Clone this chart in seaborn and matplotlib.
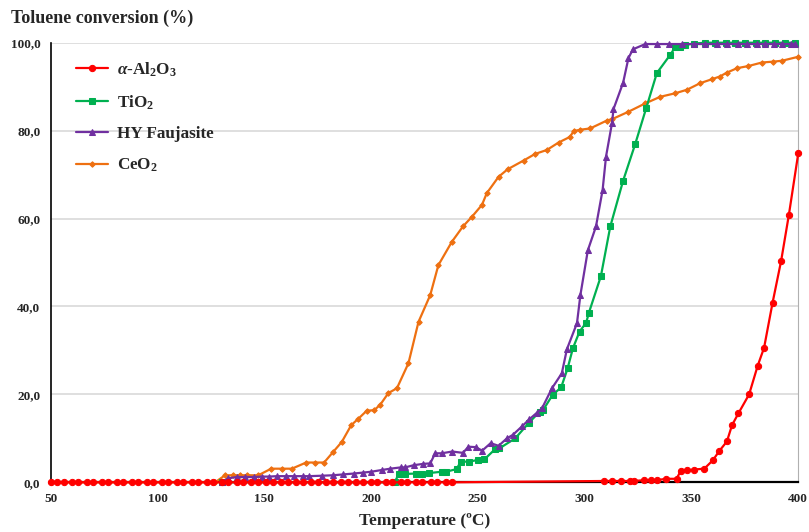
import matplotlib
matplotlib.use("Agg")
import matplotlib.pyplot as plt
import seaborn as sns
from matplotlib.ticker import MultipleLocator, FuncFormatter

# Toluene conversion vs temperature for four catalysts
al2o3_temp = [50, 53, 56, 60, 63, 67, 70, 74, 77, 81, 84, 88, 91, 95, 98, 102,
              105, 109, 112, 116, 119, 123, 126, 130, 133, 137, 140, 144, 147,
              151, 154, 158, 161, 165, 168, 172, 175, 179, 182, 186, 189, 193,
              196, 200, 203, 207, 210, 214, 217, 221, 224, 228, 231, 235, 238,
              309, 313, 317, 321, 323, 328, 331, 334, 338, 343, 345, 348, 351,
              356, 360, 363, 366.6, 369, 372, 377, 381, 384, 388, 392, 395.6, 400]
al2o3_conv = [0] * 55 + [0.3, 0.3, 0.3, 0.3, 0.3, 0.5, 0.5, 0.5, 0.8, 0.8,
                         2.6, 2.7, 2.9, 3.1, 5.0, 7.1, 9.3, 13.0, 15.7, 20.0,
                         26.5, 30.6, 40.9, 50.4, 60.8, 74.8]

tio2_temp = [130, 211, 213, 216, 221, 224, 227, 233, 235, 240, 242, 246, 250,
             253, 258, 260, 267.5, 274, 279, 280.5, 285, 289, 292, 294.5, 297.6,
             300.7, 302, 307.6, 312, 318, 323.7, 328.8, 333.8, 340, 342.4, 344.8,
             347, 351, 356.5, 361, 366, 370.6, 375, 380, 384.6, 389.3, 394, 398.7]
tio2_conv = [0, 0, 1.9, 1.9, 2.0, 2.0, 2.1, 2.4, 2.4, 3.0, 4.7, 4.7, 5.1, 5.2,
             7.5, 7.7, 10.0, 13.6, 16.1, 16.4, 19.9, 21.6, 25.9, 30.5, 34.3,
             36.3, 38.6, 46.9, 58.2, 68.6, 77.0, 85.1, 93.1, 97.2, 99.0, 99.0,
             99.5, 99.8, 100, 100, 100, 100, 100, 100, 100, 100, 100, 100]

hy_temp = [130, 133, 137, 141, 145, 149, 152, 156, 160, 164, 168, 171, 177, 182,
           187, 192, 196, 200, 205, 209, 214, 216, 220, 224.5, 227.7, 230, 233,
           238, 243, 245.6, 249, 252, 256, 259.7, 263.6, 266.4, 270.6, 274, 277.6,
           280, 284.7, 289.3, 291.7, 296.4, 298, 301.5, 305.3, 308.4, 310, 312.8,
           313.5, 318, 320.5, 322.6, 328.4, 333.8, 339.3, 345.6, 351, 356.5, 362,
           366.6, 372, 376, 380.7, 384.6, 388.5, 392.5, 396.4, 398.7]
hy_conv = [0, 0.9, 1.2, 1.2, 1.2, 1.3, 1.3, 1.4, 1.4, 1.4, 1.4, 1.4, 1.5, 1.6,
           1.8, 2.0, 2.2, 2.4, 2.8, 3.1, 3.4, 3.4, 3.9, 4.2, 4.3, 6.6, 6.6, 7.0,
           6.7, 8.1, 8.0, 7.2, 8.9, 8.3, 10.0, 10.8, 12.7, 14.3, 15.8, 16.8, 21.4,
           24.8, 30.3, 36.2, 42.6, 52.8, 58.2, 66.5, 74.1, 81.7, 84.9, 90.9, 96.5,
           98.5, 99.7, 99.7, 99.7, 99.7, 99.7, 99.7, 99.7, 99.7, 99.7, 99.7,
           99.7, 99.7, 99.7, 99.7, 99.7, 99.7]

ceo2_temp = [50, 127, 131.6, 135.5, 138.7, 141.8, 147.2, 153.2, 158.2, 162.9,
             169.6, 173.8, 178, 182.4, 186.3, 190.7, 194.1, 198, 201.4, 204.2,
             208.1, 212.1, 217.5, 222.2, 227.7, 231.5, 237.8, 243, 247.2, 251.9,
             254.2, 259.7, 263.9, 271.4, 276.8, 282.3, 287.8, 293.2, 294.8, 297.9,
             302.6, 310.4, 312.8, 320.5, 328.4, 335.4, 342.4, 347.9, 354.1, 359.6,
             363.2, 366.6, 371.3, 376.7, 383, 388.4, 392.4, 400]
ceo2_conv = [0, 0, 1.6, 1.6, 1.6, 1.6, 1.6, 3.1, 3.1, 3.1, 4.5, 4.5, 4.5, 7.0,
             9.2, 13.0, 14.5, 16.3, 16.4, 17.6, 20.3, 21.4, 27.1, 36.5, 42.6,
             49.4, 54.7, 58.2, 60.4, 63.1, 65.8, 69.5, 71.2, 73.2, 74.7, 75.6,
             77.3, 78.6, 79.9, 80.2, 80.5, 82.3, 82.6, 84.3, 86.2, 87.7, 88.5,
             89.3, 90.8, 91.7, 92.3, 93.2, 94.2, 94.7, 95.5, 95.7, 95.9, 96.8]

sns.set_style("white")
plt.rcParams["font.family"] = ["Liberation Serif", "DejaVu Serif"]
plt.rcParams["font.weight"] = "bold"
plt.rcParams["mathtext.fontset"] = "custom"
plt.rcParams["mathtext.rm"] = "Liberation Serif:bold"
plt.rcParams["mathtext.it"] = "Liberation Serif:bold:italic"
plt.rcParams["mathtext.bf"] = "Liberation Serif:bold"

fig = plt.figure(figsize=(8.09, 5.32), dpi=100)
ax = fig.add_axes([0.0627, 0.0934, 0.924, 0.8263])

series = [
    (al2o3_temp, al2o3_conv, r"$\alpha$-Al$_2$O$_3$", "#FF0000", "o", 4.5, 6),
    (tio2_temp, tio2_conv, r"TiO$_2$", "#00B050", "s", 4.2, 4),
    (hy_temp, hy_conv, "HY Faujasite", "#7030A0", "^", 4.5, 5),
    (ceo2_temp, ceo2_conv, r"CeO$_2$", "#EE7011", "D", 2.8, 3),
]
for xs, ys, lab, col, mk, ms, z in series:
    sns.lineplot(x=xs, y=ys, ax=ax, color=col, marker=mk, markersize=ms,
                 markeredgecolor=col, linewidth=1.6, label=lab, zorder=z,
                 clip_on=False, sort=False)

ax.set_xlim(50, 400)
ax.set_ylim(0, 100)
ax.xaxis.set_major_locator(MultipleLocator(50))
ax.xaxis.set_minor_locator(MultipleLocator(10))
ax.yaxis.set_major_locator(MultipleLocator(20))
ax.yaxis.set_minor_locator(MultipleLocator(10))
ax.yaxis.set_major_formatter(FuncFormatter(lambda v, p: f"{v:.1f}".replace(".", ",")))
ax.tick_params(axis="both", which="both", direction="out", color="black",
               labelsize=9.5, length=4, width=1)
ax.tick_params(axis="both", which="minor", length=3)
for lbl in ax.get_xticklabels() + ax.get_yticklabels():
    lbl.set_fontweight("bold")

ax.grid(axis="y", which="major", color="#d9d9d9", linewidth=1.2)
ax.set_axisbelow(True)
ax.spines["left"].set_color("black")
ax.spines["bottom"].set_color("black")
ax.spines["left"].set_linewidth(1.2)
ax.spines["bottom"].set_linewidth(1.6)
ax.spines["right"].set_color("#b0b0b0")
ax.spines["top"].set_visible(False)

ax.set_xlabel("Temperature (ºC)", fontsize=12.5, fontweight="bold", labelpad=6)
ax.set_ylabel("")
fig.text(0.014, 0.966, "Toluene conversion (%)", fontsize=13,
         fontweight="bold", ha="left", va="center")

leg = ax.legend(loc="upper left", bbox_to_anchor=(0.013, 0.995), frameon=False,
                fontsize=12.3, handlelength=1.9, handletextpad=0.5,
                labelspacing=0.85)
for t in leg.get_texts():
    t.set_fontweight("bold")

plt.savefig("out.png", dpi=100)
